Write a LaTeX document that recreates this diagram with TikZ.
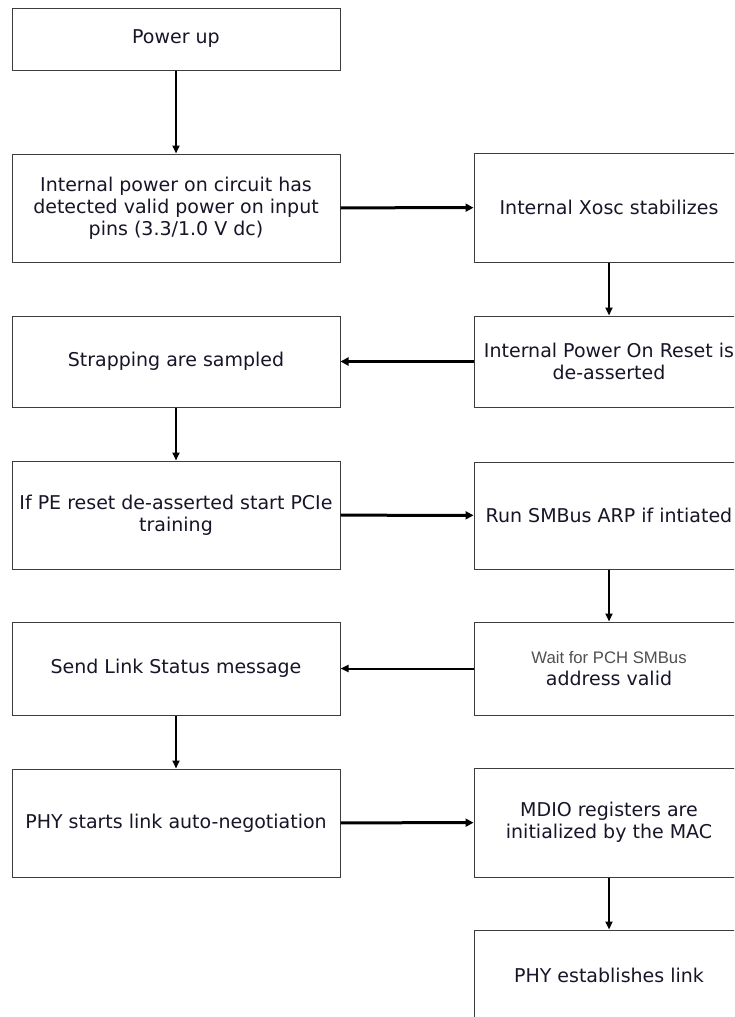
\documentclass[tikz,border=0pt]{standalone}
\usepackage{fontspec}
\setmainfont{DejaVu Sans}
\newfontfamily\arialfont{Liberation Sans}
\usetikzlibrary{arrows.meta}
\definecolor{txt}{RGB}{22,22,40}
\definecolor{bord}{RGB}{60,60,60}
\definecolor{graytxt}{RGB}{80,80,80}
\tikzset{
  box/.style={draw=bord, line width=1pt, inner sep=0pt, align=center,
    text=txt, font=\fontsize{19}{22}\selectfont},
  lbox/.style={box, minimum width=328pt},
  rbox/.style={box, minimum width=270pt},
  arr/.style={-{Triangle[length=8pt,width=7pt]}, line width=2pt, black},
  harr/.style={arr, line width=3pt, -{Triangle[length=8pt,width=8pt]}},
}
\begin{document}
\begin{tikzpicture}[x=1pt,y=-1pt]
\clip (0,0) rectangle (734,1017);
\fill[white] (0,0) rectangle (734,1017);
% left column
\node[lbox, minimum height=62pt] (p1) at (176,39) {Power up};
\node[lbox, minimum height=108pt] (p2) at (176,208) {Internal power on circuit has\\detected valid power on input\\pins (3.3/1.0 V dc)};
\node[lbox, minimum height=91pt] (p3) at (176,361.5) {Strapping are sampled};
\node[lbox, minimum height=108pt] (p4) at (176,515) {If PE reset de-asserted start PCIe\\training};
\node[lbox, minimum height=93pt] (p5) at (176,668.5) {Send Link Status message};
\node[lbox, minimum height=108pt] (p6) at (176,823) {PHY starts link auto-negotiation};
% right column
\node[rbox, minimum height=109pt] (q1) at (609,207.5) {Internal Xosc stabilizes};
\node[rbox, minimum height=91pt] (q2) at (609,361.5) {Internal Power On Reset is\\de-asserted};
\node[rbox, minimum height=107pt] (q3) at (609,515.5) {Run SMBus ARP if intiated};
\node[rbox, minimum height=93pt] (q4) at (609,668.5) {{\arialfont\fontsize{16.7}{22}\selectfont\color{graytxt}Wait for PCH SMBus}\\address valid};
\node[rbox, minimum height=109pt] (q5) at (609,822.5) {MDIO registers are\\initialized by the MAC};
\node[rbox, minimum height=90pt] (q6) at (609,975) {PHY establishes link};
% connectors
\draw[arr] (p1) -- (p2);
\draw[harr] (p2) -- (q1);
\draw[arr] (q1) -- (q2);
\draw[harr] (q2) -- (p3);
\draw[arr] (p3) -- (p4);
\draw[harr] (p4) -- (q3);
\draw[arr] (q3) -- (q4);
\draw[arr] (q4) -- (p5);
\draw[arr] (p5) -- (p6);
\draw[harr] (p6) -- (q5);
\draw[arr] (q5) -- (q6);
\end{tikzpicture}
\end{document}
